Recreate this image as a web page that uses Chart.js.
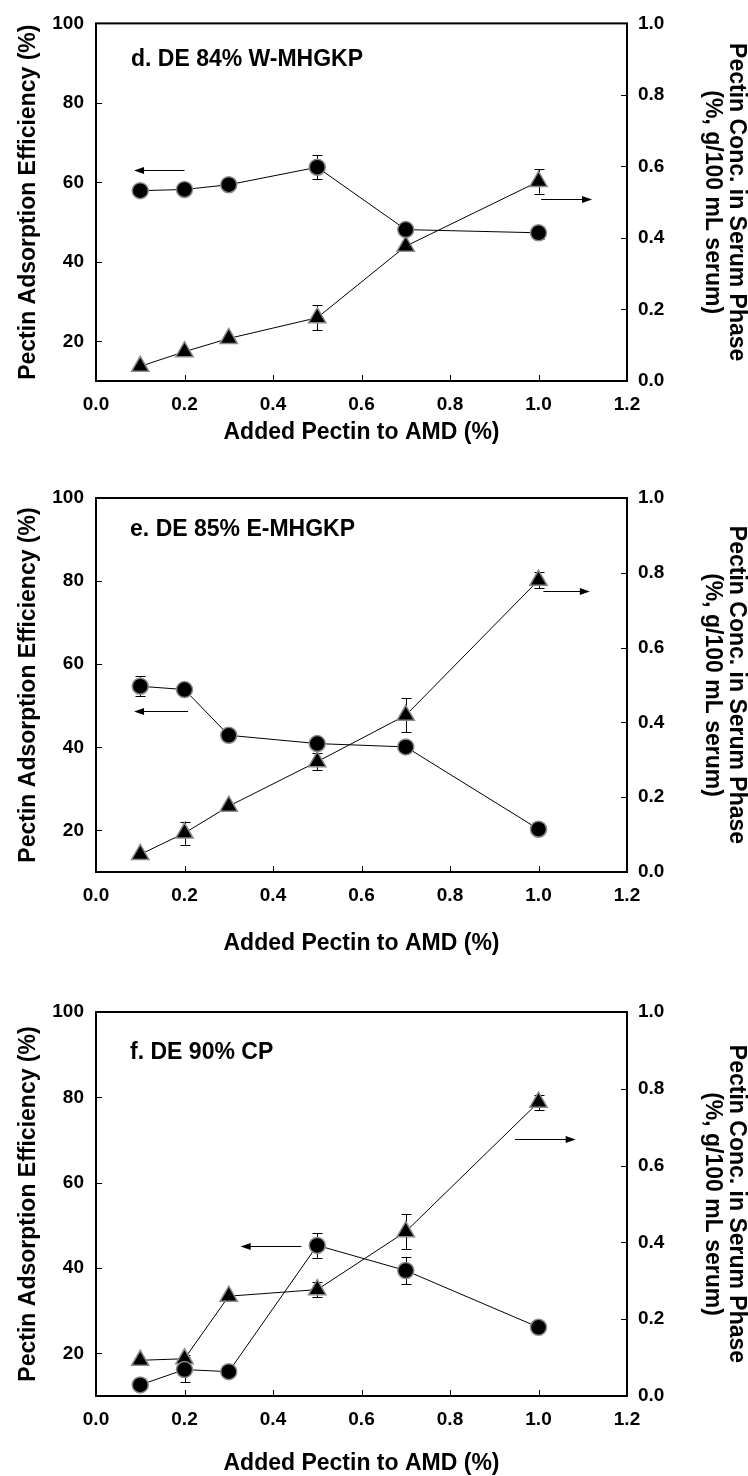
<!DOCTYPE html>
<html>
<head>
<meta charset="utf-8">
<title>Pectin adsorption vs. added pectin</title>
<script src="https://cdn.jsdelivr.net/npm/chart.js@4.4.1/dist/chart.umd.min.js"></script>
<style>
  html, body { margin: 0; padding: 0; background: #fff; }
  #wrap { position: relative; width: 748px; height: 1476px; overflow: hidden; }
  .panel { position: absolute; left: 0; width: 748px; }
  canvas { display: block; }
</style>
</head>
<body>
<div id="wrap">
  <div class="panel" style="top:0px"><canvas id="chartD" width="748" height="460"></canvas></div>
  <div class="panel" style="top:460px"><canvas id="chartE" width="748" height="500"></canvas></div>
  <div class="panel" style="top:960px"><canvas id="chartF" width="748" height="516"></canvas></div>
</div>
<script>
// Added pectin level (% of AMD) – shared x values
const addedPectin = [0.1, 0.2, 0.3, 0.5, 0.7, 1.0];

// Tick values
const xTickValues = [0, 0.2, 0.4, 0.6, 0.8, 1.0, 1.2];
const effTickValues = [20, 40, 60, 80, 100];
const concTickValues = [0, 0.2, 0.4, 0.6, 0.8, 1.0];

// d. DE 84% W-MHGKP
const effD      = [57.9, 58.2, 59.4, 63.8, 48.1, 47.3];
const effErrD   = [0, 0, 0, 3.0, 0, 1.5];
const concD     = [0.041, 0.082, 0.119, 0.177, 0.377, 0.558];
const concErrD  = [0, 0, 0, 0.035, 0.008, 0.034];

// e. DE 85% E-MHGKP
const effE      = [54.7, 53.9, 42.9, 40.9, 40.1, 20.3];
const effErrE   = [2.4, 0, 0, 0, 0, 0];
const concE     = [0.047, 0.104, 0.176, 0.295, 0.419, 0.78];
const concErrE  = [0, 0.031, 0, 0.022, 0.045, 0.021];

// f. DE 90% CP
const effF      = [12.6, 16.2, 15.7, 45.3, 39.4, 26.1];
const effErrF   = [0, 3.0, 0, 2.9, 3.2, 0];
const concF     = [0.093, 0.097, 0.26, 0.277, 0.428, 0.765];
const concErrF  = [0, 0.01, 0, 0.02, 0.045, 0.02];

// Panel captions
const captions = ['d. DE 84% W-MHGKP', 'e. DE 85% E-MHGKP', 'f. DE 90% CP'];

const FONT = "'Liberation Sans', Arial, Helvetica, sans-serif";

// Frame, inward ticks, error bars, caption and direction arrows
const figureDecor = {
  id: 'figureDecor',
  beforeDatasetsDraw(chart) {
    const ctx = chart.ctx;
    const errs = chart.options.plugins.figureDecor.errors;
    ctx.save();
    ctx.strokeStyle = '#000';
    ctx.lineWidth = 1;
    chart.data.datasets.forEach((ds, i) => {
      const meta = chart.getDatasetMeta(i);
      const scale = chart.scales[ds.yAxisID];
      const err = errs[i];
      meta.data.forEach((pt, j) => {
        const e = err[j];
        if (!e) return;
        const v = ds.data[j].y;
        const yTop = scale.getPixelForValue(v + e);
        const yBot = scale.getPixelForValue(v - e);
        const x = Math.round(pt.x) + 0.5;
        ctx.beginPath();
        ctx.moveTo(x, yTop); ctx.lineTo(x, yBot);
        ctx.moveTo(x - 5, Math.round(yTop) + 0.5); ctx.lineTo(x + 5, Math.round(yTop) + 0.5);
        ctx.moveTo(x - 5, Math.round(yBot) + 0.5); ctx.lineTo(x + 5, Math.round(yBot) + 0.5);
        ctx.stroke();
      });
    });
    ctx.restore();
  },
  afterDraw(chart) {
    const ctx = chart.ctx;
    const a = chart.chartArea;
    const opts = chart.options.plugins.figureDecor;
    const sx = chart.scales.x, sy = chart.scales.y, sy2 = chart.scales.y2;
    ctx.save();
    // plot frame
    ctx.strokeStyle = '#000';
    ctx.lineWidth = 2;
    ctx.strokeRect(a.left, a.top, a.right - a.left, a.bottom - a.top);
    // inward tick marks
    ctx.lineWidth = 1;
    ctx.beginPath();
    sx.ticks.forEach(t => {
      const x = Math.round(sx.getPixelForValue(t.value)) + 0.5;
      ctx.moveTo(x, a.bottom); ctx.lineTo(x, a.bottom - 6);
    });
    sy.ticks.forEach(t => {
      const y = Math.round(sy.getPixelForValue(t.value)) + 0.5;
      ctx.moveTo(a.left, y); ctx.lineTo(a.left + 6, y);
    });
    sy2.ticks.forEach(t => {
      const y = Math.round(sy2.getPixelForValue(t.value)) + 0.5;
      ctx.moveTo(a.right, y); ctx.lineTo(a.right - 6, y);
    });
    ctx.stroke();

    // caption
    ctx.fillStyle = '#000';
    ctx.font = 'bold 23px ' + FONT;
    ctx.textAlign = 'left';
    ctx.textBaseline = 'middle';
    ctx.fillText(opts.caption.text, sx.getPixelForValue(opts.caption.x), sy.getPixelForValue(opts.caption.y));

    // arrows pointing to the axis each series belongs to
    opts.arrows.forEach(ar => {
      const scale = chart.scales[ar.axis];
      const y = Math.round(scale.getPixelForValue(ar.at)) + 0.5;
      const x0 = sx.getPixelForValue(ar.from);
      const x1 = sx.getPixelForValue(ar.to);
      const dir = Math.sign(x1 - x0);
      ctx.lineWidth = 1.2;
      ctx.beginPath();
      ctx.moveTo(x0, y); ctx.lineTo(x1 - dir * 8, y);
      ctx.stroke();
      ctx.beginPath();
      ctx.moveTo(x1, y);
      ctx.lineTo(x1 - dir * 10, y - 3.5);
      ctx.lineTo(x1 - dir * 10, y + 3.5);
      ctx.closePath();
      ctx.fill();
    });
    ctx.restore();
  }
};

function buildPanel(canvasId, cfg) {
  const circles = addedPectin.map((x, i) => ({ x, y: cfg.eff[i] }));
  const triangles = addedPectin.map((x, i) => ({ x, y: cfg.conc[i] }));
  const tickFont = { family: FONT, size: 19, weight: 'bold' };
  const titleFont = { family: FONT, size: 23, weight: 'bold', lineHeight: 1.1 };

  return new Chart(document.getElementById(canvasId), {
    type: 'line',
    data: {
      datasets: [
        {
          label: 'Adsorption efficiency',
          data: circles,
          yAxisID: 'y',
          borderColor: '#000',
          borderWidth: 1,
          pointStyle: 'circle',
          pointRadius: 8,
          pointBackgroundColor: '#000',
          pointBorderColor: '#8a8a8a',
          pointBorderWidth: 1.5,
          tension: 0
        },
        {
          label: 'Serum concentration',
          data: triangles,
          yAxisID: 'y2',
          borderColor: '#000',
          borderWidth: 1,
          pointStyle: 'triangle',
          pointRadius: 10,
          pointBackgroundColor: '#000',
          pointBorderColor: '#8a8a8a',
          pointBorderWidth: 1.5,
          tension: 0
        }
      ]
    },
    options: {
      responsive: false,
      animation: false,
      devicePixelRatio: 1,
      layout: { padding: { top: cfg.areaTop, left: 0, right: 0, bottom: 0 } },
      plugins: {
        legend: { display: false },
        tooltip: { enabled: false },
        figureDecor: {
          errors: [cfg.effErr, cfg.concErr],
          caption: cfg.caption,
          arrows: cfg.arrows
        }
      },
      scales: {
        x: {
          type: 'linear',
          position: 'bottom',
          min: 0, max: 1.2,
          grid: { display: false, drawTicks: false },
          border: { display: false },
          afterBuildTicks: s => { s.ticks = xTickValues.map(v => ({ value: v })); },
          afterFit: s => { s.height = cfg.axisHeight; },
          ticks: {
            color: '#000', font: tickFont, padding: 12, maxRotation: 0,
            callback: v => Number(v).toFixed(1)
          },
          title: {
            display: true, text: 'Added Pectin to AMD (%)', color: '#000',
            font: titleFont, padding: { top: 0, bottom: cfg.titlePad }
          }
        },
        y: {
          type: 'linear',
          position: 'left',
          min: 10, max: 100,
          grid: { display: false, drawTicks: false },
          border: { display: false },
          afterBuildTicks: s => { s.ticks = effTickValues.map(v => ({ value: v })); },
          afterFit: s => { s.width = 96; },
          ticks: { color: '#000', font: tickFont, padding: 12, callback: v => String(v) },
          title: {
            display: true, text: 'Pectin Adsorption Efficiency (%)', color: '#000',
            font: titleFont, padding: { top: 16, bottom: 0 }
          }
        },
        y2: {
          type: 'linear',
          position: 'right',
          min: 0, max: 1,
          grid: { display: false, drawTicks: false },
          border: { display: false },
          afterBuildTicks: s => { s.ticks = concTickValues.map(v => ({ value: v })); },
          afterFit: s => { s.width = 121; },
          ticks: { color: '#000', font: tickFont, padding: 11, callback: v => Number(v).toFixed(1) },
          title: {
            display: true,
            text: ['Pectin Conc. in Serum Phase', '(%, g/100 mL serum)'],
            color: '#000',
            font: { family: FONT, size: 23, weight: 'bold', lineHeight: 1.04 },
            padding: { top: 0, bottom: 0 }
          }
        }
      }
    },
    plugins: [figureDecor]
  });
}

buildPanel('chartD', {
  areaTop: 16, axisHeight: 79, titlePad: 15,
  eff: effD, effErr: effErrD, conc: concD, concErr: concErrD,
  caption: { text: captions[0], x: 0.079, y: 90.9 },
  arrows: [
    { axis: 'y', at: 63.1, from: 0.2, to: 0.086 },
    { axis: 'y2', at: 0.51, from: 1.006, to: 1.121 }
  ]
});

buildPanel('chartE', {
  areaTop: 38, axisHeight: 88, titlePad: 4,
  eff: effE, effErr: effErrE, conc: concE, concErr: concErrE,
  caption: { text: captions[1], x: 0.077, y: 92.3 },
  arrows: [
    { axis: 'y', at: 48.7, from: 0.208, to: 0.086 },
    { axis: 'y2', at: 0.751, from: 1.011, to: 1.116 }
  ]
});

buildPanel('chartF', {
  areaTop: 52, axisHeight: 80, titlePad: 0,
  eff: effF, effErr: effErrF, conc: concF, concErr: concErrF,
  caption: { text: captions[2], x: 0.077, y: 90.4 },
  arrows: [
    { axis: 'y', at: 45.2, from: 0.464, to: 0.327 },
    { axis: 'y2', at: 0.668, from: 0.947, to: 1.084 }
  ]
});
</script>
</body>
</html>
